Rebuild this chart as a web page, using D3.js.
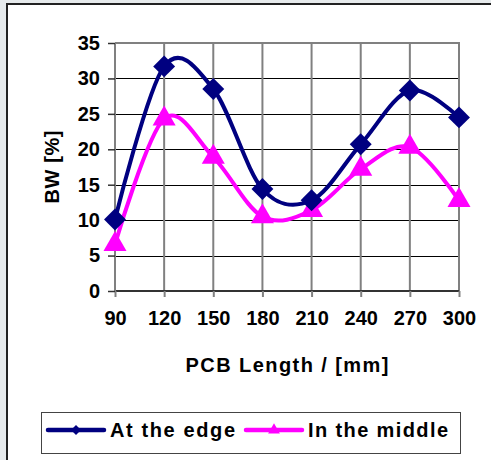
<!DOCTYPE html>
<html>
<head>
<meta charset="utf-8">
<script src="https://cdn.jsdelivr.net/npm/d3@7"></script>
<style>
  body { margin: 0; background: #e6eaec; }
  text { font-family: "Liberation Sans", Arial, sans-serif; font-weight: bold; fill: #000; }
</style>
</head>
<body>
<svg class="chart"></svg>
<script>

var categories = [90, 120, 150, 180, 210, 240, 270, 300],
    edgeValues = [10.1, 31.7, 28.5, 14.4, 12.8, 20.7, 28.3, 24.5],
    middleValues = [6.6, 24.3, 18.9, 10.5, 11.4, 17.2, 20.3, 12.8],
    yTicks = [0, 5, 10, 15, 20, 25, 30, 35],
    seriesNames = ["At the edge", "In the middle"];

var W = 491, H = 460;
var margin = {top: 43, right: 32, bottom: 169, left: 115},
    width = W - margin.left - margin.right,
    height = H - margin.top - margin.bottom;

var svg = d3.select(".chart")
    .attr("width", W)
    .attr("height", H);

// chart area box (cut off on right & bottom like the picture)
svg.append("rect")
    .attr("x", 7).attr("y", 4)
    .attr("width", W).attr("height", H)
    .attr("fill", "#fff")
    .attr("stroke", "#222")
    .attr("stroke-width", 2);

var chart = svg.append("g")
    .attr("transform", "translate(" + margin.left + "," + margin.top + ")");

var x = d3.scalePoint().domain(categories).range([0, width]),
    y = d3.scaleLinear().domain([0, 35]).range([height, 0]);

// horizontal grid
chart.selectAll(".hgrid")
    .data(yTicks.slice(1))
  .enter().append("line")
    .attr("x1", 0).attr("x2", width)
    .attr("y1", function(d) { return Math.round(y(d)) + 0.5; })
    .attr("y2", function(d) { return Math.round(y(d)) + 0.5; })
    .attr("stroke", "#000")
    .attr("stroke-width", 1);

// vertical grid
chart.selectAll(".vgrid")
    .data(categories.slice(1))
  .enter().append("line")
    .attr("x1", function(d) { return x(d); })
    .attr("x2", function(d) { return x(d); })
    .attr("y1", 0).attr("y2", height)
    .attr("stroke", "#808080")
    .attr("stroke-width", 2);

// plot border top/right
chart.append("path")
    .attr("d", "M0,0H" + width + "V" + height)
    .attr("fill", "none")
    .attr("stroke", "#808080")
    .attr("stroke-width", 2);

var xAxis = d3.axisBottom(x).tickSize(6).tickPadding(14),
    yAxis = d3.axisLeft(y).tickValues(yTicks).tickSize(7).tickPadding(8);

var gx = chart.append("g")
    .attr("transform", "translate(0," + height + ")")
    .call(xAxis);
gx.select(".domain").attr("stroke", "#333").attr("stroke-width", 2).attr("d", "M0,0H" + width);
gx.selectAll(".tick line").attr("stroke", "#808080").attr("stroke-width", 2);
gx.selectAll("text").style("font-size", "20px").attr("dy", "0.71em");

var gy = chart.append("g").call(yAxis);
gy.select(".domain").attr("stroke", "#808080").attr("stroke-width", 2).attr("d", "M0,0V" + height);
gy.selectAll(".tick line").attr("stroke", "#333").attr("stroke-width", 1.5);
gy.selectAll("text").style("font-size", "20px");

// axis titles
chart.append("text")
    .attr("x", width / 2)
    .attr("y", height + 81)
    .attr("text-anchor", "middle")
    .style("font-size", "20px")
    .attr("textLength", 203)
    .text("PCB Length / [mm]");

chart.append("text")
    .attr("transform", "translate(-56," + (height / 2) + ") rotate(-90)")
    .attr("text-anchor", "middle")
    .style("font-size", "20px")
    .attr("textLength", 73)
    .text("BW [%]");

var line = d3.line()
    .x(function(d, i) { return x(categories[i]); })
    .y(function(d) { return y(d); })
    .curve(d3.curveCardinal.tension(0));

var diamond = d3.symbol().type(d3.symbolSquare).size(240),
    triangle = d3.symbol().type(d3.symbolTriangle).size(230);

function drawSeries(values, color, sym, rot) {
  chart.append("path")
      .datum(values)
      .attr("d", line)
      .attr("fill", "none")
      .attr("stroke", color)
      .attr("stroke-width", 4);
  chart.selectAll(null)
      .data(values)
    .enter().append("path")
      .attr("d", sym)
      .attr("transform", function(d, i) {
        return "translate(" + x(categories[i]) + "," + y(d) + ") rotate(" + rot + ")";
      })
      .attr("fill", color);
}

drawSeries(middleValues, "#ff00ff", triangle, 0);
drawSeries(edgeValues, "#000080", diamond, 45);

// legend
var legend = svg.append("g");
legend.append("rect")
    .attr("x", 41.5).attr("y", 412.5)
    .attr("width", 419).attr("height", 41)
    .attr("fill", "#fff")
    .attr("stroke", "#444")
    .attr("stroke-width", 1);

var legendItems = [
  {name: seriesNames[0], color: "#000080", sym: d3.symbol().type(d3.symbolSquare).size(50), rot: 45, x0: 48, tx: 110, tl: 125},
  {name: seriesNames[1], color: "#ff00ff", sym: d3.symbol().type(d3.symbolTriangle).size(60), rot: 0, x0: 246, tx: 308, tl: 140}
];

legendItems.forEach(function(d) {
  legend.append("line")
      .attr("x1", d.x0).attr("x2", d.x0 + 56)
      .attr("y1", 430).attr("y2", 430)
      .attr("stroke", d.color)
      .attr("stroke-width", 4.5)
      .attr("stroke-linecap", "round");
  legend.append("path")
      .attr("d", d.sym())
      .attr("transform", "translate(" + (d.x0 + 28) + ",430) rotate(" + d.rot + ")")
      .attr("fill", d.color);
  legend.append("text")
      .attr("x", d.tx).attr("y", 437)
      .style("font-size", "20px")
      .attr("textLength", d.tl)
      .text(d.name);
});

</script>
</body>
</html>
